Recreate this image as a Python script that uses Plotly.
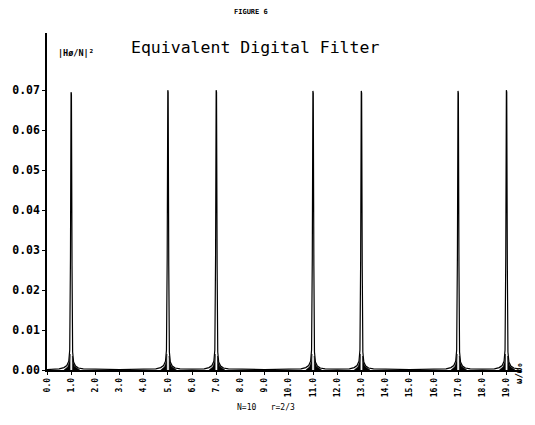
import plotly.graph_objects as go

# ---- data ----
x_ticks = list(range(0, 20))
x_tick_labels = [f"{i}.0" for i in x_ticks]
y_ticks = [0.00, 0.01, 0.02, 0.03, 0.04, 0.05, 0.06, 0.07]
y_tick_labels = ["0.00", "0.01", "0.02", "0.03", "0.04", "0.05", "0.06", "0.07"]

# |H0/N|^2 versus w/w0 (N=10, r=2/3); spikes at 1,5,7,11,13,17,19
freq = [
    0.00, 0.50, 0.70, 0.82, 0.90, 0.94, 0.97, 0.995, 1.01, 1.035, 1.06, 1.10, 1.18, 1.30, 1.50,
    3.00, 4.50, 4.70, 4.82, 4.90, 4.94, 4.97, 4.995, 5.01, 5.035, 5.06, 5.10, 5.18, 5.30, 5.50,
    6.00, 6.50, 6.70, 6.82, 6.90, 6.94, 6.97, 6.995, 7.01, 7.035, 7.06, 7.10, 7.18, 7.30, 7.50,
    9.00, 10.50, 10.70, 10.82, 10.90, 10.94, 10.97, 10.995, 11.01, 11.035, 11.06, 11.10, 11.18, 11.30, 11.50,
    12.00, 12.50, 12.70, 12.82, 12.90, 12.94, 12.97, 12.995, 13.01, 13.035, 13.06, 13.10, 13.18, 13.30, 13.50,
    15.00, 16.50, 16.70, 16.82, 16.90, 16.94, 16.97, 16.995, 17.01, 17.035, 17.06, 17.10, 17.18, 17.30, 17.50,
    18.00, 18.50, 18.70, 18.82, 18.90, 18.94, 18.97, 18.995, 19.01, 19.035, 19.06, 19.10, 19.18, 19.30, 19.50,
]
response = [
    0.0001, 0.0003, 0.0006, 0.0011, 0.0022, 0.0050, 0.0280, 0.0695, 0.0690, 0.0260, 0.0045, 0.0020, 0.0010, 0.0005, 0.0003,
    0.0001, 0.0003, 0.0006, 0.0011, 0.0022, 0.0050, 0.0280, 0.0700, 0.0695, 0.0260, 0.0045, 0.0020, 0.0010, 0.0005, 0.0003,
    0.0002, 0.0003, 0.0006, 0.0011, 0.0022, 0.0050, 0.0280, 0.0700, 0.0695, 0.0260, 0.0045, 0.0020, 0.0010, 0.0005, 0.0003,
    0.0001, 0.0003, 0.0006, 0.0011, 0.0022, 0.0050, 0.0280, 0.0698, 0.0693, 0.0260, 0.0045, 0.0020, 0.0010, 0.0005, 0.0003,
    0.0002, 0.0003, 0.0006, 0.0011, 0.0022, 0.0050, 0.0280, 0.0698, 0.0693, 0.0260, 0.0045, 0.0020, 0.0010, 0.0005, 0.0003,
    0.0001, 0.0003, 0.0006, 0.0011, 0.0022, 0.0050, 0.0280, 0.0698, 0.0693, 0.0260, 0.0045, 0.0020, 0.0010, 0.0005, 0.0003,
    0.0002, 0.0003, 0.0006, 0.0011, 0.0022, 0.0050, 0.0280, 0.0700, 0.0695, 0.0260, 0.0045, 0.0020, 0.0010, 0.0005, 0.0003,
]

# dark "skirts" of dense ripple at the foot of each spike
peak_centres = [1, 5, 7, 11, 13, 17, 19]
skirt_left_dx = [-0.30, -0.14, -0.07, -0.045, -0.045]
skirt_left_y = [0.0, 0.0008, 0.0022, 0.0040, 0.0]
skirt_right_dx = [0.05, 0.05, 0.08, 0.15, 0.36]
skirt_right_y = [0.0, 0.0035, 0.0020, 0.0009, 0.0]
skirt_x = []
skirt_y = []
for c in peak_centres:
    skirt_x += [c + d for d in skirt_left_dx] + [None] + [c + d for d in skirt_right_dx] + [None]
    skirt_y += skirt_left_y + [None] + skirt_right_y + [None]

mono = "DejaVu Sans Mono"

fig = go.Figure()
fig.add_trace(go.Scatter(
    x=skirt_x, y=skirt_y, mode="lines", fill="toself",
    fillcolor="black", line=dict(color="black", width=0.5),
    hoverinfo="skip", showlegend=False,
))
fig.add_trace(go.Scatter(
    x=freq, y=response, mode="lines",
    line=dict(color="black", width=1.2),
    showlegend=False,
))

fig.update_layout(
    width=535, height=425,
    margin=dict(l=45, r=14, t=33, b=55),
    paper_bgcolor="white", plot_bgcolor="white",
    font=dict(family=mono, color="black"),
    showlegend=False,
    title=dict(
        text="Equivalent Digital Filter",
        font=dict(family=mono, size=16.5, color="black"),
        x=0.477, xanchor="center", y=0.888, yanchor="middle",
    ),
)

fig.update_xaxes(
    range=[0, 19.6], showgrid=False, zeroline=False,
    showline=True, linecolor="black", linewidth=1.5,
    tickmode="array", tickvals=x_ticks, ticktext=x_tick_labels,
    ticks="outside", ticklen=3, tickwidth=1, tickcolor="black",
    tickangle=-90, tickfont=dict(family=mono, size=8, color="black", weight="bold"),
)
fig.update_yaxes(
    range=[0, 0.0843], showgrid=False, zeroline=False,
    showline=True, linecolor="black", linewidth=1.5,
    tickmode="array", tickvals=y_ticks, ticktext=y_tick_labels,
    ticks="outside", ticklen=3, tickwidth=1, tickcolor="black",
    tickfont=dict(family=mono, size=11.5, color="black", weight="bold"),
)

fig.add_annotation(text="FIGURE 6", xref="paper", yref="paper",
                   x=(250 - 45) / 476, y=(370 - 6) / 337, showarrow=False,
                   font=dict(family=mono, size=7, color="black", weight="bold"))
fig.add_annotation(text="|H\u00f8/N|\u00b2", xref="paper", yref="paper",
                   x=(54 - 45) / 476, y=(370 - 46) / 337, xanchor="left", showarrow=False,
                   font=dict(family=mono, size=8.5, color="black", weight="bold"))
fig.add_annotation(text="N=10   r=2/3", xref="paper", yref="paper",
                   x=(265 - 45) / 476, y=(370 - 414) / 337, showarrow=False,
                   font=dict(family=mono, size=8, color="black"))
fig.add_annotation(text="\u03c9/\u03c9\u2080", xref="paper", yref="paper",
                   x=(526 - 45) / 476, y=(370 - 386) / 337, textangle=-90, showarrow=False,
                   font=dict(family=mono, size=9, color="black", weight="bold"))

fig.write_html("out.html", config={"displayModeBar": False},
               post_script="document.body.style.margin='0';")
